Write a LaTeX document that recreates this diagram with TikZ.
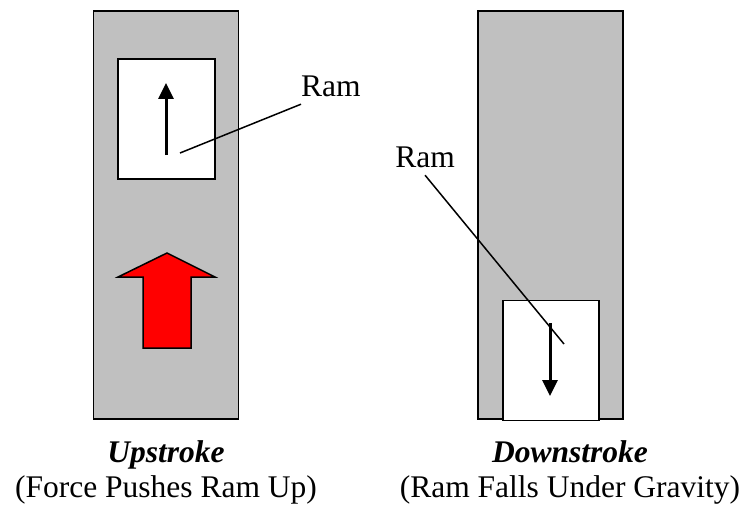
\documentclass[tikz,border=0pt]{standalone}
\usepackage{fontspec}
\setmainfont{Liberation Serif}
\usetikzlibrary{arrows.meta, positioning}
\definecolor{cylgray}{RGB}{192, 192, 192}
\definecolor{pushred}{RGB}{255, 0, 0}
\tikzset{
    cylbox/.style={
        rectangle, draw=black, fill=cylgray, line width=1.5pt,
        minimum width=145pt, minimum height=408pt, inner sep=0pt
    },
    rambox/.style={
        rectangle, draw=black, fill=white, line width=1.5pt,
        minimum width=97pt, minimum height=120pt, inner sep=0pt
    },
    ramarrow/.style={-{Triangle[length=16pt, width=15pt]}, line width=3pt},
    leader/.style={line width=1.5pt},
    ramlabel/.style={inner sep=0pt, text depth=8pt, font=\fontsize{31.5}{36}\selectfont},
    caption/.style={inner sep=0pt, anchor=base, font=\fontsize{31.5}{36}\selectfont},
    pusharrow/.style={draw=black, fill=pushred, line width=1.5pt, line join=miter},
}

\begin{document}
\begin{tikzpicture}[x=1pt, y=-1pt]
    \useasboundingbox (0, 0) rectangle (743, 508);

    % upstroke
    \node[cylbox] (upcyl) at (166, 215) {};
    \node[rambox] (upram) at (166.5, 119) {};
    \draw[ramarrow] (166, 155) -- (166, 83);
    \draw[pusharrow] (143, 348) -- (143, 277) -- (118, 277) -- (167, 253)
        -- (215, 277) -- (191, 277) -- (191, 348) -- cycle;
    \node[ramlabel, anchor=base west] (uplabel) at (301, 96) {Ram};
    \coordinate (upend) at (180, 153);
    \draw[leader] (uplabel.south west) -- (upend);

    % downstroke
    \node[cylbox] (downcyl) at (550.5, 215) {};
    \node[rambox, minimum width=96pt] (downram) at (551, 360.5) {};
    \draw[ramarrow] (550, 323) -- (550, 396);
    \node[ramlabel, anchor=base east] (downlabel) at (455, 167) {Ram};
    \coordinate (downend) at (564, 344);
    \draw[leader] (downlabel.south) -- (downend);

    \node[caption] (uptitle) at (166, 462) {\textbf{\textit{Upstroke}}};
    \node[caption] (upnote) at (166, 497) {(Force Pushes Ram Up)};
    \node[caption] (downtitle) at (570, 462) {\textbf{\textit{Downstroke}}};
    \node[caption] (downnote) at (570, 497) {(Ram Falls Under Gravity)};
\end{tikzpicture}
\end{document}
